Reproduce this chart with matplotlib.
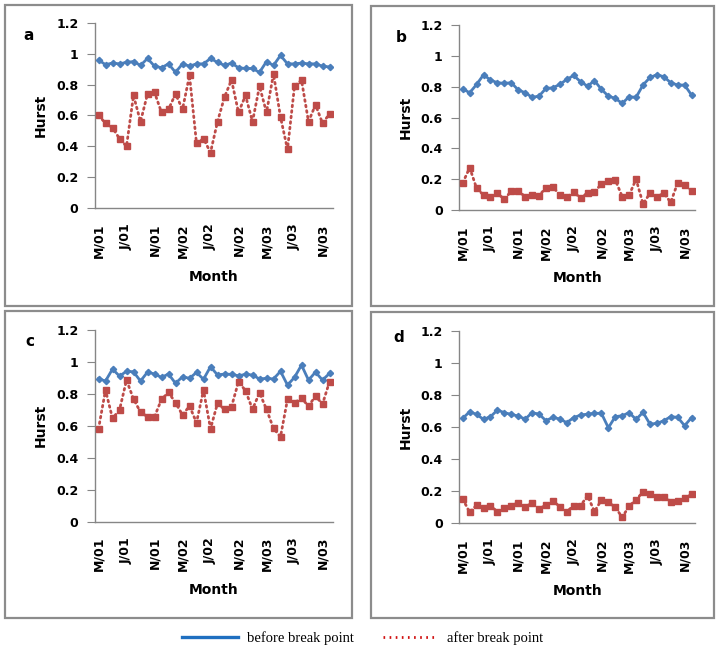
import matplotlib.pyplot as plt
from matplotlib.lines import Line2D
from matplotlib.patches import Rectangle
import numpy as np

plt.close('all')

#DATA: HURST EXPONENT PER MONTH (MAR 2001 - DEC 2003)
tick_labels = ['M/01', 'J/01', 'N/01', 'M/02', 'J/02', 'N/02', 'M/03', 'J/03', 'N/03']
tick_index = [0, 4, 8, 12, 16, 20, 24, 28, 32]
y_ticks = [0, 0.2, 0.4, 0.6, 0.8, 1, 1.2]
y_tick_labels = ['0', '0.2', '0.4', '0.6', '0.8', '1', '1.2']

before_a = [0.96, 0.93, 0.94, 0.935, 0.945, 0.95, 0.925, 0.97, 0.92, 0.91, 0.935, 0.88,
            0.935, 0.92, 0.935, 0.935, 0.97, 0.945, 0.925, 0.94, 0.91, 0.905, 0.905, 0.88,
            0.95, 0.925, 0.99, 0.935, 0.935, 0.94, 0.935, 0.935, 0.92, 0.915]
after_a = [0.60, 0.55, 0.52, 0.45, 0.40, 0.73, 0.56, 0.74, 0.75, 0.62, 0.64, 0.74,
           0.64, 0.86, 0.42, 0.45, 0.36, 0.56, 0.72, 0.83, 0.62, 0.73, 0.56, 0.79,
           0.62, 0.87, 0.59, 0.38, 0.79, 0.83, 0.56, 0.67, 0.55, 0.61]

before_b = [0.786, 0.762, 0.816, 0.879, 0.844, 0.827, 0.823, 0.827, 0.78, 0.762, 0.732, 0.74,
            0.79, 0.794, 0.816, 0.848, 0.874, 0.833, 0.805, 0.84, 0.784, 0.74, 0.725, 0.693,
            0.736, 0.732, 0.812, 0.861, 0.879, 0.866, 0.827, 0.812, 0.812, 0.747]
after_b = [0.177, 0.275, 0.14, 0.097, 0.087, 0.108, 0.07, 0.123, 0.123, 0.087, 0.10, 0.093,
           0.145, 0.15, 0.097, 0.082, 0.12, 0.075, 0.113, 0.12, 0.167, 0.188, 0.195, 0.087,
           0.097, 0.20, 0.04, 0.108, 0.087, 0.108, 0.05, 0.177, 0.162, 0.125]

before_c = [0.894, 0.879, 0.954, 0.91, 0.94, 0.937, 0.879, 0.935, 0.923, 0.902, 0.923, 0.865,
            0.906, 0.896, 0.933, 0.89, 0.969, 0.917, 0.923, 0.921, 0.912, 0.921, 0.917, 0.892,
            0.896, 0.892, 0.94, 0.854, 0.902, 0.979, 0.885, 0.935, 0.885, 0.927]
after_c = [0.58, 0.823, 0.646, 0.698, 0.885, 0.767, 0.685, 0.656, 0.656, 0.765, 0.808, 0.744,
           0.667, 0.723, 0.619, 0.823, 0.581, 0.74, 0.702, 0.719, 0.875, 0.819, 0.702, 0.806,
           0.702, 0.583, 0.531, 0.765, 0.744, 0.771, 0.723, 0.785, 0.735, 0.875]

before_d = [0.654, 0.695, 0.678, 0.647, 0.664, 0.705, 0.689, 0.678, 0.668, 0.649, 0.689, 0.68,
            0.639, 0.66, 0.649, 0.627, 0.658, 0.674, 0.68, 0.685, 0.685, 0.595, 0.664, 0.67,
            0.689, 0.647, 0.691, 0.618, 0.622, 0.639, 0.664, 0.66, 0.608, 0.658]
after_d = [0.151, 0.068, 0.114, 0.093, 0.108, 0.073, 0.098, 0.11, 0.129, 0.104, 0.124, 0.089,
           0.114, 0.139, 0.104, 0.073, 0.11, 0.11, 0.172, 0.073, 0.145, 0.131, 0.10, 0.037,
           0.108, 0.145, 0.197, 0.18, 0.166, 0.166, 0.135, 0.141, 0.156, 0.18]

panels = [('a', before_a, after_a), ('b', before_b, after_b),
          ('c', before_c, after_c), ('d', before_d, after_d)]

#PIXEL LAYOUT (721 x 651)
W, H = 721.0, 651.0
axes_px = [(95, 333, 23, 208), (459.3, 695, 25.3, 210),
           (95, 333, 329.7, 521.7), (459.3, 695, 330.6, 523.3)]
box_px = [(5, 352, 5, 306), (371, 714, 6, 306), (5, 352, 311, 618), (371, 714, 312, 618)]
letter_px = [(29, 35), (401, 38), (30, 341), (399, 337)]
month_y_px = [277, 278, 590, 591]
hurst_x_px = [40.5, 406, 40.5, 406]

BLUE = '#4A7EBB'
RED = '#BE4B48'
GRAY = '#868686'

fig = plt.figure(figsize=(7.21, 6.51), dpi=100)
plt.rcParams.update({'font.family': 'DejaVu Sans'})

for i, (name, before, after) in enumerate(panels):
    l, r, t, b = axes_px[i]
    bl, br, bt, bb = box_px[i]
    lx, ly = letter_px[i]

    #PANEL BORDER
    fig.patches.append(Rectangle((bl / W, 1 - bb / H), (br - bl) / W, (bb - bt) / H,
                                 transform=fig.transFigure, fill=False,
                                 edgecolor='#8c8c8c', linewidth=1.6))
    fig.text(lx / W, 1 - ly / H, name, fontsize=11, fontweight='bold', ha='center', va='center')

    ax = fig.add_axes([l / W, 1 - b / H, (r - l) / W, (b - t) / H])
    x = np.arange(len(before))
    ax.plot(x, before, color=BLUE, linewidth=2.0, marker='D', markersize=3.2, zorder=3)
    ax.plot(x, after, color=RED, linewidth=2.0, linestyle=(0, (0.6, 1.4)),
            dash_capstyle='round', marker='s', markersize=5, zorder=4)

    ax.set_xlim(-0.5, len(before) - 0.5)
    ax.set_ylim(0, 1.2)
    ax.set_yticks(y_ticks)
    ax.set_yticklabels(y_tick_labels, fontsize=9, fontweight='bold')
    ax.set_xticks(tick_index)
    ax.set_xticklabels(tick_labels, fontsize=9, fontweight='bold', rotation=90)
    ax.tick_params(axis='x', length=0, pad=11)
    ax.tick_params(axis='y', direction='out', length=6, color=GRAY, pad=6)

    for s in ['top', 'right']:
        ax.spines[s].set_visible(False)
    for s in ['left', 'bottom']:
        ax.spines[s].set_color(GRAY)
        ax.spines[s].set_linewidth(1.0)

    ax.set_xlabel('Month', fontsize=10, fontweight='bold')
    ax.xaxis.set_label_coords(0.5, -(month_y_px[i] - b) / (b - t))
    ax.xaxis.label.set_va('center')
    ax.set_ylabel('Hurst', fontsize=10, fontweight='bold')
    ax.yaxis.set_label_coords((hurst_x_px[i] - l) / (r - l), 0.5)
    ax.yaxis.label.set_va('center')

#LEGEND BELOW THE PANELS
handles = [Line2D([], [], color='#1F6FC0', linewidth=2.4),
           Line2D([], [], color='#D01010', linewidth=2.0, linestyle=(0, (0.6, 1.6)))]
fig.legend(handles, ['before break point', 'after break point'], loc='center',
           bbox_to_anchor=(0.503, 1 - 638 / H), ncol=2, frameon=False,
           prop={'family': 'Liberation Serif', 'size': 10.5},
           handlelength=3.8, handletextpad=0.6, columnspacing=2.0)

plt.savefig('out.png', dpi=100)
